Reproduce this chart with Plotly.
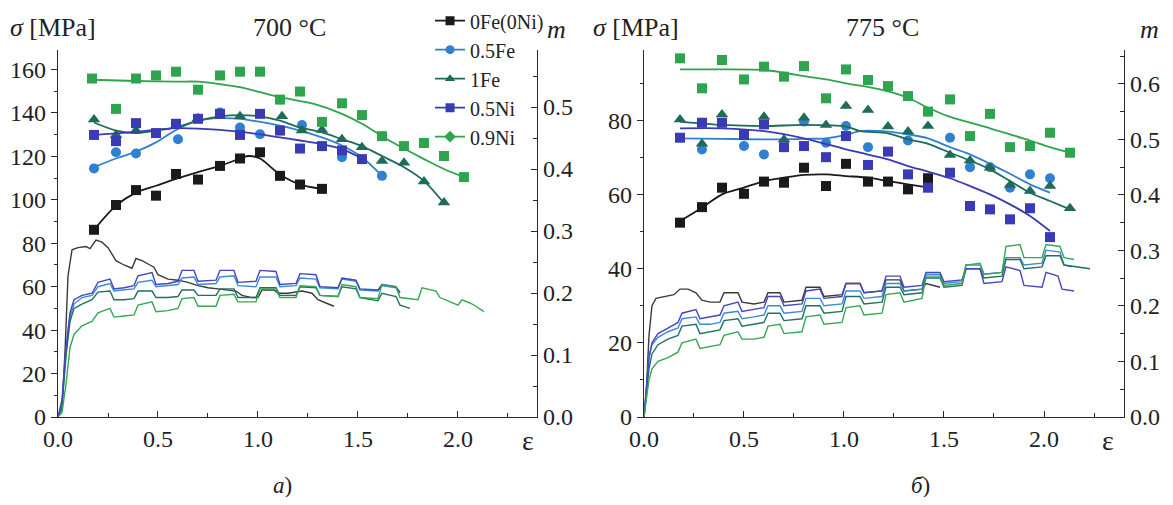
import plotly.graph_objects as go

# ---------------- DATA ----------------
NAMES = ["0Fe(0Ni)", "0.5Fe", "1Fe", "0.5Ni", "0.9Ni"]
COLORS = ["#1a1a1a", "#2f80d0", "#1d6b58", "#3a3ab4", "#2ea44f"]
LINE_COLORS = ["#3a3a3a", "#3b8ad6", "#22705f", "#4545c0", "#34a853"]
SYMBOLS = ["square", "circle", "triangle-up", "square", "square"]
LEGEND_SYMBOLS = ["square", "circle", "triangle-up", "square", "diamond"]

# ---- 700 °C : strain-rate sensitivity m (markers) ----
M700_EPS = [
    [0.18, 0.29, 0.39, 0.49, 0.59, 0.70, 0.81, 0.91, 1.01, 1.11, 1.21, 1.32],
    [0.18, 0.29, 0.39, 0.60, 0.81, 0.91, 1.01, 1.22, 1.42, 1.62],
    [0.18, 0.29, 0.39, 0.70, 0.91, 1.12, 1.22, 1.32, 1.42, 1.52, 1.62, 1.73, 1.83, 1.93],
    [0.18, 0.29, 0.39, 0.49, 0.59, 0.70, 0.81, 0.91, 1.01, 1.11, 1.21, 1.32, 1.42, 1.52],
    [0.17, 0.29, 0.39, 0.49, 0.59, 0.70, 0.81, 0.91, 1.01, 1.11, 1.21, 1.32, 1.42, 1.52, 1.62, 1.73, 1.83, 1.93, 2.03],
]
M700_M = [
    [0.302, 0.342, 0.366, 0.357, 0.392, 0.383, 0.405, 0.417, 0.427, 0.389, 0.375, 0.368],
    [0.401, 0.427, 0.425, 0.448, 0.491, 0.467, 0.456, 0.471, 0.419, 0.389],
    [0.480, 0.455, 0.462, 0.482, 0.485, 0.485, 0.462, 0.463, 0.448, 0.435, 0.413, 0.410, 0.380, 0.346],
    [0.455, 0.445, 0.474, 0.458, 0.473, 0.481, 0.489, 0.455, 0.489, 0.462, 0.433, 0.437, 0.430, 0.416],
    [0.546, 0.497, 0.546, 0.551, 0.557, 0.528, 0.551, 0.557, 0.557, 0.512, 0.525, 0.476, 0.506, 0.487, 0.453, 0.437, 0.442, 0.421, 0.387],
]
# ---- 700 °C : fitted m curves ----
F700_EPS = [
    [0.18, 0.29, 0.39, 0.49, 0.59, 0.70, 0.81, 0.91, 0.95, 1.01, 1.11, 1.21, 1.32],
    [0.18, 0.29, 0.39, 0.49, 0.59, 0.70, 0.81, 0.91, 1.01, 1.11, 1.21, 1.32, 1.42, 1.52, 1.62],
    [0.18, 0.29, 0.39, 0.49, 0.59, 0.70, 0.81, 0.91, 1.01, 1.11, 1.21, 1.32, 1.42, 1.52, 1.62, 1.73, 1.83, 1.93],
    [0.18, 0.39, 0.59, 0.81, 1.01, 1.11, 1.21, 1.32, 1.42, 1.52],
    [0.17, 0.39, 0.59, 0.70, 0.81, 0.91, 1.01, 1.11, 1.28, 1.42, 1.52, 1.62, 1.73, 1.83, 1.93, 2.03],
]
F700_M = [
    [0.302, 0.341, 0.362, 0.373, 0.384, 0.395, 0.405, 0.417, 0.421, 0.417, 0.391, 0.375, 0.368],
    [0.403, 0.417, 0.428, 0.443, 0.463, 0.478, 0.482, 0.481, 0.476, 0.470, 0.462, 0.451, 0.438, 0.419, 0.389],
    [0.475, 0.462, 0.458, 0.462, 0.467, 0.478, 0.485, 0.487, 0.485, 0.478, 0.467, 0.459, 0.448, 0.437, 0.421, 0.403, 0.381, 0.345],
    [0.455, 0.460, 0.466, 0.463, 0.456, 0.451, 0.446, 0.440, 0.432, 0.417],
    [0.544, 0.542, 0.541, 0.541, 0.537, 0.532, 0.524, 0.516, 0.505, 0.489, 0.473, 0.453, 0.433, 0.416, 0.400, 0.387],
]
# ---- 700 °C : stress-strain curves (eps, sigma MPa) ----
S700 = [
    [(0.00, 0), (0.02, 4), (0.035, 30), (0.05, 65), (0.07, 77), (0.10, 78), (0.14, 78.5), (0.16, 77.5),
     (0.19, 81.5), (0.22, 80.5), (0.25, 78), (0.27, 75), (0.29, 72), (0.33, 70), (0.37, 68.5), (0.39, 73),
     (0.42, 72), (0.46, 70), (0.48, 69), (0.50, 65.5), (0.55, 63.5), (0.60, 63), (0.65, 62), (0.70, 60.5),
     (0.75, 59.5), (0.80, 59), (0.85, 58.5), (0.89, 58), (0.92, 56), (0.97, 55), (1.00, 55), (1.02, 58.5),
     (1.08, 58.5), (1.10, 57), (1.15, 57), (1.20, 57.5), (1.22, 58), (1.27, 57), (1.30, 54), (1.34, 52.5),
     (1.38, 51)],
    [(0, 0), (0.02, 6), (0.04, 30), (0.06, 46), (0.08, 52), (0.12, 55), (0.17, 56), (0.20, 60), (0.26, 61.5),
     (0.28, 58), (0.32, 58.5), (0.38, 59), (0.40, 62), (0.47, 63), (0.49, 60), (0.55, 60.5), (0.60, 61),
     (0.62, 64), (0.68, 64.5), (0.70, 61), (0.79, 61.5), (0.81, 64.5), (0.88, 65), (0.90, 60.5), (0.99, 60),
     (1.01, 64.5), (1.09, 64.5), (1.11, 60), (1.19, 60.5), (1.21, 64), (1.29, 63.5), (1.31, 59.5), (1.40, 59),
     (1.42, 63.5), (1.49, 62.5), (1.51, 58.5), (1.60, 58), (1.62, 60.5), (1.69, 59.5), (1.71, 57)],
    [(0, 0), (0.02, 5), (0.04, 28), (0.06, 44), (0.08, 50), (0.12, 52), (0.17, 54), (0.20, 57.5), (0.26, 58),
     (0.28, 54), (0.33, 54), (0.38, 54.5), (0.40, 58), (0.47, 58), (0.49, 55), (0.55, 55), (0.60, 55.5),
     (0.62, 58.5), (0.68, 58.5), (0.70, 56), (0.79, 56), (0.81, 59), (0.88, 59), (0.90, 55), (0.99, 55),
     (1.01, 59.5), (1.09, 59.5), (1.11, 56), (1.19, 56), (1.21, 60), (1.29, 59.5), (1.31, 56), (1.40, 55.5),
     (1.42, 60), (1.49, 59), (1.51, 55), (1.60, 53.5), (1.62, 57), (1.69, 55.5), (1.71, 51.5), (1.76, 50)],
    [(0, 0), (0.02, 8), (0.04, 32), (0.06, 48), (0.08, 54), (0.12, 56), (0.17, 57), (0.20, 62), (0.26, 63.5),
     (0.28, 59), (0.33, 59.5), (0.38, 60.5), (0.40, 65), (0.47, 66.5), (0.49, 61), (0.55, 61.5), (0.60, 62.5),
     (0.62, 67.5), (0.68, 67.5), (0.70, 62.5), (0.79, 63), (0.81, 67.5), (0.88, 67.5), (0.90, 62), (0.99, 62.5),
     (1.01, 67.5), (1.09, 67), (1.11, 61), (1.19, 61.5), (1.21, 66), (1.29, 65.5), (1.31, 60), (1.40, 59.5),
     (1.42, 64), (1.49, 63), (1.51, 59), (1.60, 58.5), (1.62, 61), (1.69, 60), (1.71, 57.5)],
    [(0, 0), (0.02, 2), (0.04, 15), (0.06, 32), (0.08, 38), (0.12, 42), (0.17, 44), (0.20, 48), (0.26, 50),
     (0.28, 46), (0.33, 46.5), (0.38, 47), (0.40, 51.5), (0.47, 53), (0.49, 48.5), (0.55, 49), (0.60, 50),
     (0.62, 54.5), (0.68, 55), (0.70, 51), (0.79, 51), (0.81, 56), (0.88, 56.5), (0.90, 53), (0.99, 53),
     (1.01, 59), (1.09, 59), (1.11, 55), (1.19, 55), (1.21, 60.5), (1.29, 60), (1.31, 56), (1.40, 55.5),
     (1.42, 61), (1.49, 60), (1.51, 55), (1.60, 54.5), (1.62, 61), (1.69, 60), (1.71, 55), (1.80, 54),
     (1.82, 59.5), (1.89, 58), (1.91, 55), (2.00, 51.5), (2.02, 54), (2.06, 52.5), (2.09, 51), (2.13, 48.5)],
]

# ---- 775 °C : m markers ----
M775_EPS = [
    [0.18, 0.29, 0.39, 0.50, 0.60, 0.70, 0.80, 0.91, 1.01, 1.12, 1.22, 1.32, 1.42],
    [0.29, 0.50, 0.60, 0.80, 0.91, 1.01, 1.12, 1.32, 1.53, 1.63, 1.73, 1.83, 1.93, 2.03],
    [0.18, 0.29, 0.39, 0.60, 0.70, 0.80, 0.91, 1.01, 1.12, 1.22, 1.32, 1.42, 1.53, 1.63, 1.73, 1.83, 1.93, 2.03, 2.13],
    [0.18, 0.29, 0.39, 0.50, 0.60, 0.70, 0.80, 0.91, 1.01, 1.12, 1.22, 1.32, 1.42, 1.53, 1.63, 1.73, 1.83, 1.93, 2.03],
    [0.18, 0.29, 0.39, 0.50, 0.60, 0.70, 0.80, 0.91, 1.01, 1.12, 1.22, 1.32, 1.42, 1.53, 1.63, 1.73, 1.83, 1.93, 2.03, 2.13],
]
M775_M = [
    [0.350, 0.378, 0.413, 0.402, 0.424, 0.422, 0.449, 0.416, 0.456, 0.424, 0.424, 0.410, 0.430],
    [0.482, 0.488, 0.473, 0.532, 0.494, 0.524, 0.486, 0.498, 0.503, 0.450, 0.450, 0.413, 0.437, 0.430],
    [0.536, 0.492, 0.545, 0.541, 0.500, 0.539, 0.526, 0.560, 0.553, 0.523, 0.514, 0.524, 0.472, 0.462, 0.449, 0.418, 0.407, 0.416, 0.376],
    [0.503, 0.530, 0.530, 0.508, 0.527, 0.486, 0.488, 0.468, 0.506, 0.454, 0.478, 0.437, 0.413, 0.440, 0.380, 0.374, 0.356, 0.376, 0.324],
    [0.646, 0.592, 0.643, 0.608, 0.631, 0.613, 0.632, 0.574, 0.626, 0.607, 0.596, 0.578, 0.550, 0.572, 0.506, 0.546, 0.486, 0.488, 0.512, 0.476],
]
F775_EPS = [
    [0.18, 0.29, 0.39, 0.50, 0.60, 0.70, 0.80, 0.91, 1.01, 1.12, 1.22, 1.32, 1.41],
    [0.18, 0.39, 0.60, 0.80, 0.91, 1.01, 1.08, 1.22, 1.32, 1.42, 1.53, 1.63, 1.73, 1.83, 1.93, 2.03],
    [0.18, 0.39, 0.60, 0.80, 1.01, 1.08, 1.22, 1.32, 1.42, 1.53, 1.63, 1.73, 1.83, 1.93, 2.03, 2.13],
    [0.18, 0.39, 0.60, 0.80, 1.01, 1.08, 1.22, 1.32, 1.42, 1.53, 1.63, 1.73, 1.83, 1.93, 2.03],
    [0.18, 0.39, 0.60, 0.70, 0.80, 0.91, 1.01, 1.18, 1.32, 1.42, 1.52, 1.63, 1.73, 1.83, 1.93, 2.03, 2.13],
]
F775_M = [
    [0.353, 0.377, 0.401, 0.413, 0.425, 0.431, 0.436, 0.437, 0.434, 0.431, 0.425, 0.419, 0.414],
    [0.502, 0.501, 0.500, 0.501, 0.502, 0.508, 0.515, 0.514, 0.509, 0.502, 0.486, 0.473, 0.456, 0.438, 0.419, 0.404],
    [0.532, 0.526, 0.524, 0.526, 0.523, 0.515, 0.511, 0.500, 0.492, 0.476, 0.462, 0.446, 0.425, 0.404, 0.389, 0.374],
    [0.520, 0.520, 0.515, 0.502, 0.482, 0.476, 0.464, 0.452, 0.442, 0.430, 0.416, 0.401, 0.383, 0.362, 0.335],
    [0.626, 0.626, 0.625, 0.620, 0.614, 0.608, 0.601, 0.590, 0.575, 0.557, 0.542, 0.530, 0.520, 0.509, 0.498, 0.486, 0.476],
]
S775 = [
    [(0, 0), (0.01, 5), (0.025, 22), (0.04, 30), (0.06, 32), (0.10, 32.5), (0.15, 33), (0.18, 34.5), (0.22, 34.5),
     (0.26, 33.5), (0.29, 31.5), (0.33, 31), (0.38, 31), (0.40, 33.5), (0.47, 33.5), (0.49, 31), (0.55, 30.5),
     (0.60, 31), (0.62, 33.5), (0.68, 33.5), (0.70, 31), (0.79, 31.5), (0.81, 35), (0.88, 35), (0.90, 32.5),
     (0.99, 33), (1.01, 36), (1.08, 36), (1.10, 33.5), (1.19, 34), (1.21, 37), (1.28, 37), (1.30, 34),
     (1.39, 34.5), (1.41, 36), (1.48, 35)],
    [(0, 0), (0.01, 6), (0.025, 16), (0.04, 19.5), (0.07, 21.5), (0.12, 23), (0.17, 24), (0.19, 26.5), (0.26, 27),
     (0.28, 25), (0.33, 25), (0.38, 25.5), (0.40, 28), (0.47, 28.5), (0.49, 26.5), (0.55, 27), (0.60, 27.5),
     (0.62, 30), (0.68, 30), (0.70, 28), (0.79, 28.5), (0.81, 32), (0.88, 32), (0.90, 30), (0.99, 30.5),
     (1.01, 34), (1.08, 34), (1.10, 32), (1.19, 32.5), (1.21, 36), (1.28, 36), (1.30, 34), (1.39, 34.5),
     (1.41, 38.5), (1.48, 38.5), (1.50, 36), (1.59, 36.5), (1.61, 41), (1.68, 41), (1.70, 38.5), (1.79, 39),
     (1.81, 43), (1.88, 43), (1.90, 41), (1.99, 41.5), (2.01, 45), (2.08, 44.5), (2.10, 41), (2.14, 40.5)],
    [(0, 0), (0.01, 5), (0.025, 13), (0.04, 17), (0.07, 19.5), (0.12, 21), (0.17, 22), (0.19, 24.5), (0.26, 25),
     (0.28, 22.5), (0.33, 23), (0.38, 23.5), (0.40, 26), (0.47, 26.5), (0.49, 24.5), (0.55, 25), (0.60, 25.5),
     (0.62, 28), (0.68, 28), (0.70, 26), (0.79, 26.5), (0.81, 30), (0.88, 30), (0.90, 28), (0.99, 28.5),
     (1.01, 32.5), (1.08, 32.5), (1.10, 30.5), (1.19, 31), (1.21, 35), (1.28, 35), (1.30, 33), (1.39, 33.5),
     (1.41, 37.5), (1.48, 37.5), (1.50, 35), (1.59, 35.5), (1.61, 40), (1.68, 40), (1.70, 37.5), (1.79, 38),
     (1.81, 42.5), (1.88, 42.5), (1.90, 40), (1.99, 40.5), (2.01, 43.5), (2.08, 43.5), (2.10, 41), (2.18, 40.5),
     (2.23, 40)],
    [(0, 0), (0.01, 6), (0.025, 16), (0.04, 20), (0.07, 22.5), (0.12, 24), (0.17, 25.5), (0.19, 28), (0.26, 29),
     (0.28, 26.5), (0.33, 27), (0.38, 27.5), (0.40, 30), (0.47, 31), (0.49, 28.5), (0.55, 29), (0.60, 29.5),
     (0.62, 32.5), (0.68, 32.5), (0.70, 30), (0.79, 30.5), (0.81, 34), (0.88, 34.5), (0.90, 32), (0.99, 32.5),
     (1.01, 36), (1.08, 36), (1.10, 33.5), (1.19, 34), (1.21, 38), (1.28, 38), (1.30, 35), (1.39, 35.5),
     (1.41, 39), (1.48, 39), (1.50, 36.5), (1.59, 37), (1.61, 40), (1.68, 40), (1.70, 36), (1.79, 36.5),
     (1.81, 40.5), (1.88, 39.5), (1.90, 35.5), (1.99, 35), (2.01, 39), (2.07, 38), (2.09, 34.5), (2.15, 34)],
    [(0, 0), (0.01, 4), (0.025, 10), (0.04, 13), (0.07, 15), (0.12, 16), (0.17, 17.5), (0.19, 20), (0.26, 21),
     (0.28, 18.5), (0.33, 19), (0.38, 19.5), (0.40, 22), (0.47, 23), (0.49, 21), (0.55, 21), (0.60, 21.5),
     (0.62, 24.5), (0.68, 25), (0.70, 22.5), (0.79, 23), (0.81, 27), (0.88, 27.5), (0.90, 25), (0.99, 25.5),
     (1.01, 29.5), (1.08, 30), (1.10, 27.5), (1.19, 28), (1.21, 33), (1.28, 33.5), (1.30, 31), (1.39, 32),
     (1.41, 38), (1.48, 38), (1.50, 35.5), (1.59, 36), (1.61, 41), (1.68, 41.5), (1.70, 38.5), (1.79, 39),
     (1.81, 46), (1.88, 46.5), (1.90, 43), (1.99, 43), (2.01, 46.5), (2.08, 46), (2.10, 43), (2.15, 42.5)],
]

# axis ranges
X_RANGE_700 = [0, 2.395]
X_RANGE_775 = [0, 2.40]
SIG_RANGE_700 = [0, 169]
M_RANGE_700 = [0, 0.592]
SIG_RANGE_775 = [0, 99]
M_RANGE_775 = [0, 0.661]

# ---------------- FIGURE ----------------
FONT = "Liberation Serif, Times New Roman, DejaVu Serif, serif"
fig = go.Figure()

def add_panel(S, FE, FM, ME, MM, xa, ysig, ym):
    for i in range(5):
        ex, sy = zip(*S[i])
        fig.add_trace(go.Scatter(x=ex, y=sy, mode="lines", xaxis=xa, yaxis=ysig,
                                 line=dict(color=LINE_COLORS[i], width=1.4), showlegend=False,
                                 hoverinfo="skip"))
    for i in range(5):
        fig.add_trace(go.Scatter(x=FE[i], y=FM[i], mode="lines", xaxis=xa, yaxis=ym,
                                 line=dict(color=COLORS[i], width=1.8, shape="spline", smoothing=0.8),
                                 showlegend=False, hoverinfo="skip"))
        fig.add_trace(go.Scatter(x=ME[i], y=MM[i], mode="markers", xaxis=xa, yaxis=ym,
                                 marker=dict(color=COLORS[i], symbol=SYMBOLS[i],
                                             size=11 if SYMBOLS[i] == "triangle-up" else 10,
                                             line=dict(width=0)),
                                 showlegend=False))

add_panel(S700, F700_EPS, F700_M, M700_EPS, M700_M, "x", "y", "y2")
add_panel(S775, F775_EPS, F775_M, M775_EPS, M775_M, "x2", "y3", "y4")

# legend-only entries
for i in range(5):
    fig.add_trace(go.Scatter(x=[None], y=[None], mode="lines+markers", name=NAMES[i],
                             xaxis="x", yaxis="y2",
                             line=dict(color=COLORS[i], width=1.8),
                             marker=dict(color=COLORS[i], symbol=LEGEND_SYMBOLS[i], size=9)))

axis_line = dict(showline=True, linecolor="#2a2a2a", linewidth=1.3, showgrid=False, zeroline=False,
                 tickfont=dict(family=FONT, size=24, color="#222"), ticklen=6, tickcolor="#2a2a2a",
                 tickwidth=1.2)

def xax(domain, rng):
    return dict(domain=domain, range=rng, dtick=0.5, tick0=0, tickformat=".1f", ticks="inside",
                minor=dict(dtick=0.25, ticks="inside", ticklen=4, tickcolor="#2a2a2a"), **axis_line)

def sig_ax(anchor, rng):
    return dict(anchor=anchor, range=rng, dtick=20, tick0=0, ticks="outside", side="left",
                domain=[0, 1], minor=dict(dtick=10, ticks="outside", ticklen=3, tickcolor="#2a2a2a"),
                **axis_line)

def m_ax(anchor, over, rng):
    return dict(anchor=anchor, overlaying=over, range=rng, dtick=0.1, tick0=0, tickformat=".1f",
                ticks="inside", side="right",
                minor=dict(dtick=0.05, ticks="inside", ticklen=4, tickcolor="#2a2a2a"), **axis_line)

# the page body has an 8 px margin, so the figure is sized/offset to compensate
fig.update_layout(
    width=1157, height=489,
    margin=dict(l=50, r=41, t=42, b=80, autoexpand=False),
    paper_bgcolor="white", plot_bgcolor="white",
    font=dict(family=FONT, size=18, color="#222"),
    xaxis=xax([0, 0.4493], X_RANGE_700),
    xaxis2=xax([0.5497, 1], X_RANGE_775),
    yaxis=sig_ax("x", SIG_RANGE_700),
    yaxis2=m_ax("x", "y", M_RANGE_700),
    yaxis3=sig_ax("x2", SIG_RANGE_775),
    yaxis4=m_ax("x2", "y3", M_RANGE_775),
    legend=dict(x=0.349, y=1.133, xanchor="left", yanchor="top", bgcolor="rgba(0,0,0,0)",
                font=dict(family=FONT, size=20, color="#222"), tracegroupgap=0,
                itemwidth=30),
    showlegend=True,
)

ann = [
    dict(x=-0.047, y=1.06, text="<i>σ</i> [MPa]", xanchor="left", size=26),
    dict(x=0.2176, y=1.06, text="700 °C", xanchor="center", size=26),
    dict(x=0.468, y=1.055, text="<i>m</i>", xanchor="center", size=26),
    dict(x=0.500, y=1.06, text="<i>σ</i> [MPa]", xanchor="left", size=26),
    dict(x=0.773, y=1.06, text="775 °C", xanchor="center", size=26),
    dict(x=1.024, y=1.055, text="<i>m</i>", xanchor="center", size=26),
    dict(x=0.441, y=-0.063, text="ε", xanchor="center", size=28),
    dict(x=0.985, y=-0.063, text="ε", xanchor="center", size=28),
    dict(x=0.211, y=-0.188, text="<i>a</i>)", xanchor="center", size=23),
    dict(x=0.809, y=-0.188, text="<i>б</i>)", xanchor="center", size=23),
]
for a in ann:
    sz = a.pop("size")
    fig.add_annotation(xref="paper", yref="paper", showarrow=False, yanchor="middle",
                       font=dict(family=FONT, size=sz, color="#222"), **a)

fig.write_html("out.html")
